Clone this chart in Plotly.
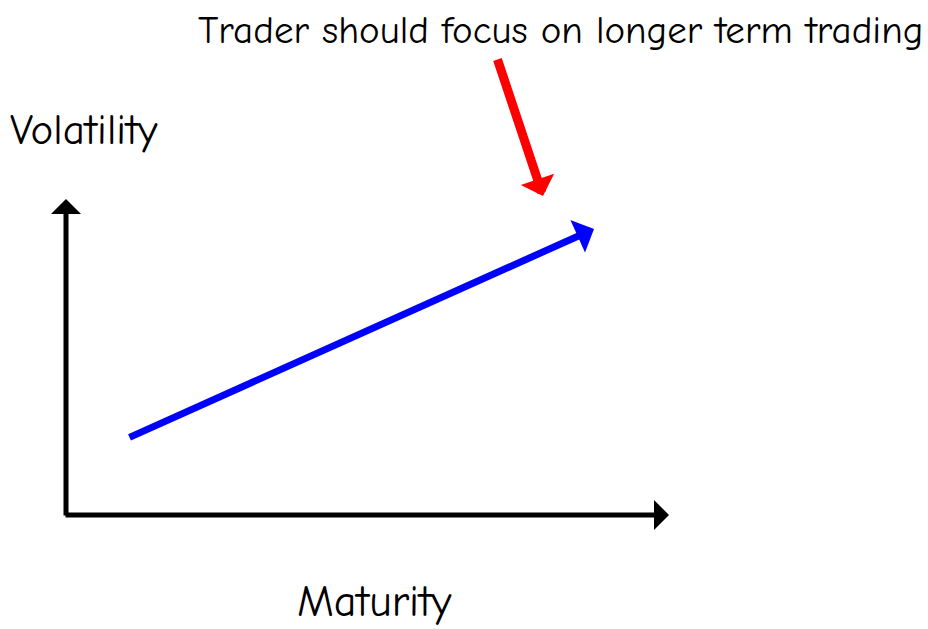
import plotly.graph_objects as go

# Схема: координаты в условных единицах холста (0..928 по x, 0..629 по y)
AXIS_ORIGIN = (66, 114)
Y_AXIS_TOP = (66, 430)
X_AXIS_END = (669, 114)

TREND_X = [128, 594]
TREND_Y = [191, 400]

CALLOUT_X = [497, 543]
CALLOUT_Y = [571, 433]

TITLE_TEXT = "Trader should focus on longer term trading"
Y_LABEL = "Volatility"
X_LABEL = "Maturity"

FONT = "Comic Sans MS, Comic Neue, Lato, sans-serif"


def arrow(x0, y0, x1, y1, color, width, size):
    return dict(x=x1, y=y1, ax=x0, ay=y0, xref="x", yref="y", axref="x", ayref="y",
                text="", showarrow=True, arrowhead=1, arrowsize=size,
                arrowwidth=width, arrowcolor=color, standoff=0, startstandoff=0)


fig = go.Figure()
fig.add_trace(go.Scatter(x=[0, 928], y=[0, 629], mode="markers",
                         marker=dict(size=1, opacity=0), hoverinfo="skip", showlegend=False))

annotations = [
    arrow(AXIS_ORIGIN[0], AXIS_ORIGIN[1] - 2, Y_AXIS_TOP[0], Y_AXIS_TOP[1], "black", 5, 1.0),
    arrow(AXIS_ORIGIN[0] - 2, AXIS_ORIGIN[1], X_AXIS_END[0], X_AXIS_END[1], "black", 5, 1.0),
    arrow(TREND_X[0], TREND_Y[0], TREND_X[1], TREND_Y[1], "#0000FF", 7, 0.85),
    arrow(CALLOUT_X[0], CALLOUT_Y[0], CALLOUT_X[1], CALLOUT_Y[1], "#FF0000", 9, 0.65),
    dict(x=560, y=599, xref="x", yref="y", text=TITLE_TEXT, showarrow=False,
         font=dict(family=FONT, size=39, color="black")),
    dict(x=84, y=499, xref="x", yref="y", text=Y_LABEL, showarrow=False,
         font=dict(family=FONT, size=43, color="black")),
    dict(x=374, y=28, xref="x", yref="y", text=X_LABEL, showarrow=False,
         font=dict(family=FONT, size=44, color="black")),
]

fig.update_layout(
    width=928, height=629,
    margin=dict(l=0, r=0, t=0, b=0),
    paper_bgcolor="white", plot_bgcolor="white",
    xaxis=dict(range=[0, 928], visible=False, fixedrange=True),
    yaxis=dict(range=[0, 629], visible=False, fixedrange=True),
    annotations=annotations,
    showlegend=False,
)

fig.write_html("out.html", config=dict(displayModeBar=False),
               post_script="document.body.style.margin='0';document.body.style.overflow='hidden';")
